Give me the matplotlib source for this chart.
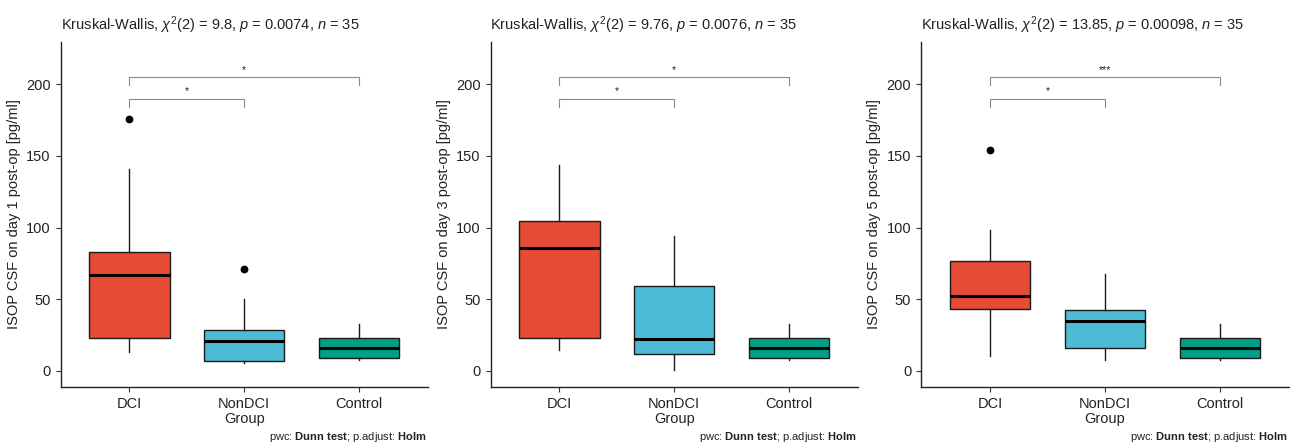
import matplotlib
matplotlib.use("Agg")
import matplotlib.pyplot as plt

plt.rcParams['font.family'] = ['Liberation Sans', 'DejaVu Sans']
plt.rcParams['mathtext.fontset'] = 'custom'
plt.rcParams['mathtext.rm'] = 'Liberation Sans'
plt.rcParams['mathtext.it'] = 'Liberation Sans:italic'
plt.rcParams['mathtext.bf'] = 'Liberation Sans:bold'

groups = ["DCI", "NonDCI", "Control"]
colors = ["#E64B35", "#4DBBD5", "#00A087"]
days = [1, 3, 5]
titles = [
    r"Kruskal-Wallis, $\chi^2$(2) = 9.8, $\it{p}$ = 0.0074, $\it{n}$ = 35",
    r"Kruskal-Wallis, $\chi^2$(2) = 9.76, $\it{p}$ = 0.0076, $\it{n}$ = 35",
    r"Kruskal-Wallis, $\chi^2$(2) = 13.85, $\it{p}$ = 0.00098, $\it{n}$ = 35",
]
# per panel, per group: [whislo, q1, med, q3, whishi]
day1 = [[13.3, 23.3, 67.1, 82.9, 140.6], [5.6, 7.2, 21.0, 28.4, 50.0], [7.5, 9.3, 16.0, 23.3, 33.0]]
day3 = [[14.4, 23.3, 86.1, 104.3, 143.9], [0.9, 12.1, 22.6, 59.6, 94.0], [7.5, 9.3, 16.0, 23.3, 33.0]]
day5 = [[10.5, 43.1, 52.4, 76.4, 98.3], [7.9, 16.1, 34.7, 42.8, 67.3], [7.5, 9.3, 16.0, 23.3, 33.0]]
outliers1 = [[175.6], [70.8], []]
outliers3 = [[], [], []]
outliers5 = [[154.1], [], []]
sig_inner = ["*", "*", "*"]   # DCI vs NonDCI
sig_outer = ["*", "*", "***"]  # DCI vs Control
data = [day1, day3, day5]
outs = [outliers1, outliers3, outliers5]

W, H = 1290, 443
fig = plt.figure(figsize=(W / 100, H / 100), dpi=100)
lefts = [60.5, 490.5, 921]
rights = [428, 858, 1289]
top_px, bot_px = 42, 387

for i in range(3):
    ax = fig.add_axes([lefts[i] / W, 1 - bot_px / H, (rights[i] - lefts[i]) / W, (bot_px - top_px) / H])
    stats = []
    for g in range(3):
        lo, q1, med, q3, hi = data[i][g]
        stats.append(dict(whislo=lo, q1=q1, med=med, q3=q3, whishi=hi, fliers=outs[i][g]))
    bp = ax.bxp(stats, positions=[1, 2, 3], widths=0.7, patch_artist=True, showcaps=False,
                boxprops=dict(linewidth=1.0, edgecolor="#1a1a1a"),
                whiskerprops=dict(linewidth=1.0, color="#1a1a1a"),
                medianprops=dict(linewidth=2.2, color="black", solid_capstyle="butt"),
                flierprops=dict(marker="o", markerfacecolor="black", markeredgecolor="black", markersize=4.6))
    for patch, c in zip(bp["boxes"], colors):
        patch.set_facecolor(c)
    ax.set_xlim(0.4, 3.6)
    ax.set_ylim(-11.2, 229.5)
    ax.set_yticks([0, 50, 100, 150, 200])
    ax.set_xticks([1, 2, 3])
    ax.set_xticklabels(groups)
    ax.tick_params(axis="both", labelsize=10.5, length=3.5, width=0.8, color="#333333", labelcolor="#222222")
    for s in ["top", "right"]:
        ax.spines[s].set_visible(False)
    for s in ["left", "bottom"]:
        ax.spines[s].set_linewidth(1.0)
        ax.spines[s].set_color("#222222")
    ax.set_xlabel("Group", fontsize=10.5, labelpad=1, color="#222222")
    ax.set_ylabel(f"ISOP CSF on day {days[i]} post-op [pg/ml]", fontsize=10.5, labelpad=4, color="#222222")
    ax.set_title(titles[i], loc="left", fontsize=10.5, pad=9, color="#222222")
    # brackets
    bc = "#8a8a8a"
    ax.plot([1, 1, 2, 2], [184, 190, 190, 184], color=bc, lw=0.8, clip_on=False)
    ax.text(1.5, 191.5, sig_inner[i], ha="center", va="bottom", fontsize=7.5, color="#222222")
    ax.plot([1, 1, 3, 3], [199.5, 205.1, 205.1, 199.5], color=bc, lw=0.8, clip_on=False)
    ax.text(2, 206.5, sig_outer[i], ha="center", va="bottom", fontsize=7.5, color="#222222")
    # caption
    fig.text(rights[i] / W - 0.001, -1 / H, r"pwc: $\mathbf{Dunn\ test}$; p.adjust: $\mathbf{Holm}$",
             ha="right", va="bottom", fontsize=8, color="#222222")

fig.savefig("out.png", dpi=100)
